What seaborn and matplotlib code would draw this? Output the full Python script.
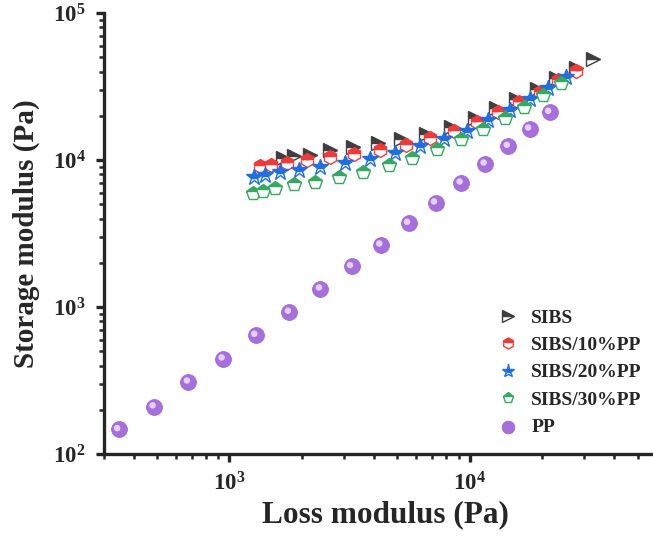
import numpy as np
import pandas as pd
import matplotlib
matplotlib.use("Agg")
import matplotlib.pyplot as plt
import seaborn as sns
from matplotlib.ticker import LogLocator, NullFormatter

sns.set_style("ticks")
plt.rcParams['font.family'] = ['Liberation Serif', 'DejaVu Serif']
plt.rcParams['font.weight'] = 'bold'
plt.rcParams['mathtext.fontset'] = 'custom'
plt.rcParams['mathtext.rm'] = 'Liberation Serif:bold'
plt.rcParams['mathtext.bf'] = 'Liberation Serif:bold'
plt.rcParams['mathtext.it'] = 'Liberation Serif:bold'
plt.rcParams['mathtext.default'] = 'bf'

# ---- data ----
sibs_x = [1667, 1853, 2175, 2628, 3264, 4150, 5190, 6600, 8336, 10490, 12840, 15660, 19070, 22810, 27660, 32640]
sibs_y = [10280, 10650, 10870, 11690, 12310, 13000, 13830, 15030, 16860, 19220, 22480, 25880, 30270, 35970, 42270, 48420]

pp10_x = [1342, 1493, 1740, 2107, 2628, 3296, 4217, 5412, 6813, 8604, 10720, 13120, 16040, 19570, 23330, 27660]
pp10_y = [9100, 9290, 9590, 10000, 10430, 10990, 11690, 12650, 14050, 15820, 18230, 21320, 24930, 29150, 35000, 40470]

pp20_x = [1271, 1413, 1626, 1944, 2394, 3015, 3831, 4870, 6190, 7816, 9746, 11940, 14780, 17780, 21190, 25290]
pp20_y = [7700, 7940, 8250, 8550, 9000, 9500, 10110, 11220, 12450, 13830, 15820, 18710, 21880, 25880, 30740, 36540]

pp30_x = [1251, 1376, 1555, 1853, 2282, 2853, 3610, 4610, 5770, 7330, 9173, 11400, 13990, 16830, 20200, 23940]
pp30_y = [5936, 6180, 6420, 6840, 7120, 7630, 8310, 9250, 10370, 11830, 13830, 16300, 19220, 23060, 27680, 33570]

pp_x = [346, 486, 675, 942, 1288, 1778, 2394, 3224, 4270, 5572, 7215, 9222, 11610, 14490, 17780, 21540]
pp_y = [147, 210, 310, 445, 645, 925, 1332, 1892, 2654, 3727, 5124, 7010, 9436, 12450, 16330, 21220]

labels = ["SIBS", "SIBS/10%PP", "SIBS/20%PP", "SIBS/30%PP", "PP"]

fig = plt.figure(figsize=(6.53, 5.37), dpi=100)
ax = fig.add_axes([0.159, 0.1546, 0.841, 0.821])

half_series = [
    (sibs_x, sibs_y, ">", "#3f3f3f", 10),
    (pp10_x, pp10_y, "h", "#f03a3a", 10),
    (pp20_x, pp20_y, "*", "#1f6fe0", 12),
    (pp30_x, pp30_y, "p", "#36a862", 10),
]
handles = []
for (xs, ys, mk, col, ms), lab in zip(half_series, labels[:4]):
    df = pd.DataFrame({"x": xs, "y": ys})
    sns.lineplot(data=df, x="x", y="y", ax=ax, estimator=None, sort=False,
                 linestyle="none", marker=mk, markersize=ms, color=col,
                 markerfacecolor=col, markeredgecolor=col, markeredgewidth=1.0,
                 fillstyle="top", markerfacecoloralt="white", zorder=3)
    handles.append(ax.lines[-1])

dfp = pd.DataFrame({"x": pp_x, "y": pp_y})
sns.scatterplot(data=dfp, x="x", y="y", ax=ax, s=130, color="#a76fdc",
                edgecolor="#a06ad6", linewidth=0.6, zorder=4)
pp_handle = ax.collections[-1]
# sphere highlight
hx = np.array(pp_x) * 0.985
hy = np.array(pp_y) * 1.02
sns.scatterplot(x=hx, y=hy, ax=ax, s=22, color="#e4d0f6", edgecolor="none",
                linewidth=0, zorder=5)
handles.append(pp_handle)

ax.set_xscale("log")
ax.set_yscale("log")
ax.set_xlim(300, 58000)
ax.set_ylim(100, 100000)

for s in ["top", "right"]:
    ax.spines[s].set_visible(False)
for s in ["left", "bottom"]:
    ax.spines[s].set_linewidth(2.4)

ax.xaxis.set_major_locator(LogLocator(base=10, numticks=10))
ax.yaxis.set_major_locator(LogLocator(base=10, numticks=10))
ax.xaxis.set_minor_locator(LogLocator(base=10, subs=np.arange(2, 10), numticks=20))
ax.yaxis.set_minor_locator(LogLocator(base=10, subs=np.arange(2, 10), numticks=20))
ax.xaxis.set_minor_formatter(NullFormatter())
ax.yaxis.set_minor_formatter(NullFormatter())
ax.tick_params(which="major", direction="out", length=6, width=2.4, labelsize=16.5, pad=7)
ax.tick_params(which="minor", direction="out", length=3.5, width=1.8)
for t in ax.get_xticklabels() + ax.get_yticklabels():
    t.set_fontweight("bold")

ax.set_xlabel("Loss modulus (Pa)", fontsize=22.5, fontweight="bold")
ax.set_ylabel("Storage modulus (Pa)", fontsize=21, fontweight="bold", labelpad=9)
ax.xaxis.set_label_coords(0.512, -0.105)

leg = ax.legend(handles, labels, loc="upper left", bbox_to_anchor=(0.733, 0.457),
                bbox_transform=fig.transFigure, frameon=False,
                prop={"family": "Liberation Serif", "weight": "bold", "size": 14},
                handletextpad=0.6, labelspacing=0.5, handlelength=1.2, markerscale=0.8)

fig.savefig("out.png", dpi=100)
